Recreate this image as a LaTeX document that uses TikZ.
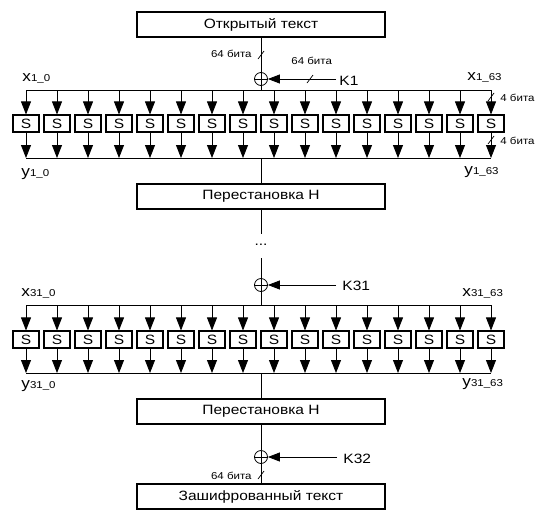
\documentclass[tikz,border=0pt]{standalone}
\usepackage{fontspec}
\setmainfont{Liberation Sans}[FakeStretch=1.15]
\usetikzlibrary{arrows.meta,positioning}

\newcommand\idx[1]{{\fontsize{10}{11}\selectfont #1}}

\tikzset{
  block/.style={draw,line width=1.1pt,minimum width=248pt,minimum height=25pt,inner sep=0pt,font=\fontsize{13.5}{15}\selectfont},
  sbox/.style={draw,line width=1.1pt,minimum width=26pt,minimum height=17pt,inner sep=0pt,font=\fontsize{13.5}{15}\selectfont},
  xorop/.style={draw,circle,line width=0.8pt,minimum size=13pt,inner sep=0pt,
    path picture={\draw[line width=0.8pt] (path picture bounding box.north)--(path picture bounding box.south)
      (path picture bounding box.west)--(path picture bounding box.east);}},
  arr/.style={-{Triangle[length=13pt,width=10pt]}},
  keyarr/.style={-{Triangle[length=12pt,width=9pt]}},
  tick/.style={line width=0.7pt},
  small/.style={font=\fontsize{10}{11}\selectfont,inner sep=0pt},
  keylbl/.style={font=\fontsize{13.5}{15}\selectfont,inner sep=0pt,anchor=base west},
  bitlbl/.style={font=\fontsize{15}{16}\selectfont,inner sep=0pt,anchor=base west},
}

\begin{document}
\begin{tikzpicture}[x=1pt,y=-1pt,line width=0.8pt]
\useasboundingbox (0,0) rectangle (535,512);

% top of the cipher
\node[block] (plain) at (261,24.5) {Открытый текст};
\node[xorop] (xor1) at (261,79) {};
\node[keylbl] (k1) at (339,85) {K1};
\coordinate (t1) at (261,55);
\coordinate (t2) at (310,79);
\draw (plain) -- (xor1);
\draw[keyarr] ([xshift=-3pt]k1.west |- xor1) -- (xor1);
\draw[tick] ([shift={(-3,4)}]t1) -- ([shift={(3,-4)}]t1);
\draw[tick] ([shift={(-3,4)}]t2) -- ([shift={(3,-4)}]t2);
\node[small,anchor=base east] at (252,57.5) {64 бита};
\node[small,anchor=base west] at (291,64) {64 бита};

% round 1
\coordinate (in1) at (26,90);
\coordinate (out1) at (26,158);
\foreach \i in {0,...,15}
  \node[sbox] (sa\i) at (26+31*\i,123.5) {S};
\draw (sa0 |- in1) -- (sa15 |- in1);
\draw (sa0 |- out1) -- (sa15 |- out1);
\foreach \i in {0,...,15} {
  \draw[arr] (sa\i |- in1) -- (sa\i.north);
  \draw[arr] (sa\i.south) -- (sa\i |- out1);
}
\draw (xor1) -- (xor1 |- in1);
\node[bitlbl] (xa) at (22,81) {x\idx{1\_0}};
\node[bitlbl] (xb) at (467,80) {x\idx{1\_63}};
\node[bitlbl] (ya) at (21,176) {y\idx{1\_0}};
\node[bitlbl] (yb) at (464,174) {y\idx{1\_63}};
\coordinate (t3) at (491,97);
\coordinate (t4) at (491,140);
\draw[tick] ([shift={(-3,4)}]t3) -- ([shift={(3,-4)}]t3);
\draw[tick] ([shift={(-3,4)}]t4) -- ([shift={(3,-4)}]t4);
\node[small,anchor=base west] at (500,101) {4 бита};
\node[small,anchor=base west] at (500,144) {4 бита};

\node[block] (perm1) at (261,196.5) {Перестановка Н};
\draw (xor1 |- out1) -- (perm1);
\node[inner sep=0pt,font=\fontsize{13.5}{15}\selectfont] (dots) at (261,245) {...};
\coordinate (d1) at (261,234);
\coordinate (d2) at (261,258);
\draw (perm1) -- (d1);

% round 31
\node[xorop] (xor2) at (261,285) {};
\node[keylbl] (k31) at (342,290.5) {K31};
\draw (d2) -- (xor2);
\draw[keyarr] ([xshift=-6pt]k31.west |- xor2) -- (xor2);
\coordinate (in2) at (26,305);
\coordinate (out2) at (26,373);
\foreach \i in {0,...,15}
  \node[sbox] (sb\i) at (26+31*\i,339.5) {S};
\draw (sb0 |- in2) -- (sb15 |- in2);
\draw (sb0 |- out2) -- (sb15 |- out2);
\foreach \i in {0,...,15} {
  \draw[arr] (sb\i |- in2) -- (sb\i.north);
  \draw[arr] (sb\i.south) -- (sb\i |- out2);
}
\draw (xor2) -- (xor2 |- in2);
\node[bitlbl] (xc) at (21,296) {x\idx{31\_0}};
\node[bitlbl] (xd) at (462,296) {x\idx{31\_63}};
\node[bitlbl] (yc) at (21,388) {y\idx{31\_0}};
\node[bitlbl] (yd) at (462,386) {y\idx{31\_63}};

\node[block] (perm2) at (261,411.5) {Перестановка Н};
\draw (xor2 |- out2) -- (perm2);

% last key
\node[xorop] (xor3) at (261,457) {};
\node[keylbl] (k32) at (343,463) {K32};
\node[block] (cipher) at (261,496.5) {Зашифрованный текст};
\draw (perm2) -- (xor3);
\draw[keyarr] ([xshift=-6pt]k32.west |- xor3) -- (xor3);
\draw (xor3) -- (cipher);
\coordinate (t5) at (261,475);
\draw[tick] ([shift={(-3,4)}]t5) -- ([shift={(3,-4)}]t5);
\node[small,anchor=base east] at (252,479) {64 бита};
\end{tikzpicture}
\end{document}
